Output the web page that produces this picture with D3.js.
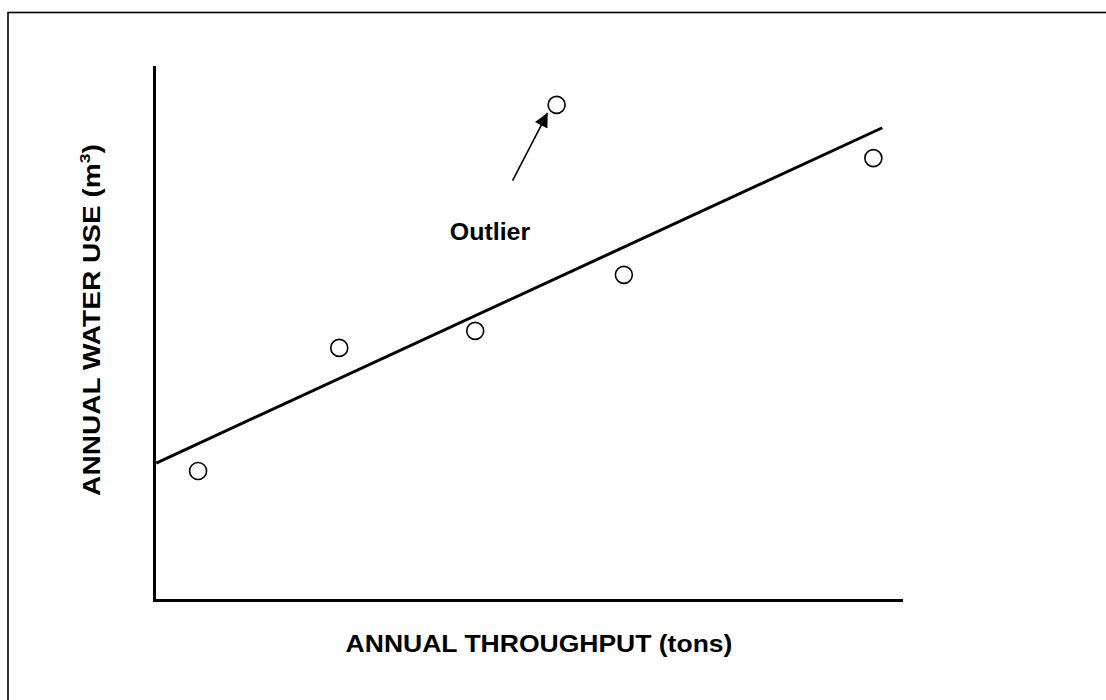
<!DOCTYPE html>
<html><head><meta charset="utf-8">
<script src="https://cdn.jsdelivr.net/npm/d3@7"></script>
<style>html,body{margin:0;padding:0;background:#fff;}svg{display:block;}</style>
</head><body>
<svg id="chart" width="1106" height="700"></svg>
<script>
// Data (arbitrary units, 0-100 on both axes)
const throughput = [5.9, 24.8, 43.0, 53.9, 62.9, 96.3];
const waterUse   = [24.2, 47.3, 50.5, 92.9, 61.0, 82.9];
const trendX = [0.3, 97.5];
const trendY = [25.7, 88.6];
const arrowFrom = [48.0, 78.7];
const arrowTo = [52.7, 91.4];
const outlierLabel = "Outlier";
const xTitle = "ANNUAL THROUGHPUT (tons)";
const yTitle = "ANNUAL WATER USE (m";

const svg = d3.select("#chart");
const font = "'Liberation Sans', Arial, sans-serif";

svg.append("rect").attr("x", 8).attr("y", 12.5).attr("width", 1200).attr("height", 800)
  .attr("fill", "none").attr("stroke", "#000").attr("stroke-width", 1.6);

const x = d3.scaleLinear().domain([0, 100]).range([154, 901]);
const y = d3.scaleLinear().domain([0, 100]).range([600, 67]);

// axes (domain lines only)
const gx = svg.append("g").attr("transform", `translate(0,${y(0)})`)
  .call(d3.axisBottom(x).ticks(0).tickSizeOuter(0));
const gy = svg.append("g").attr("transform", `translate(${x(0)},0)`)
  .call(d3.axisLeft(y).ticks(0).tickSizeOuter(0));
[gx, gy].forEach(g => g.select(".domain").attr("stroke", "#000").attr("stroke-width", 3).attr("stroke-linecap", "square"));

// trend line
svg.append("path")
  .datum(trendX.map((v, i) => [v, trendY[i]]))
  .attr("d", d3.line().x(d => x(d[0])).y(d => y(d[1])))
  .attr("fill", "none").attr("stroke", "#000").attr("stroke-width", 3);

// points
svg.append("g").selectAll("circle")
  .data(throughput.map((v, i) => [v, waterUse[i]]))
  .join("circle")
  .attr("cx", d => x(d[0])).attr("cy", d => y(d[1])).attr("r", 8.5)
  .attr("fill", "#fff").attr("stroke", "#000").attr("stroke-width", 1.6);

// arrow
svg.append("defs").append("marker")
  .attr("id", "arrow").attr("viewBox", "0 0 10 10").attr("refX", 10).attr("refY", 5)
  .attr("markerWidth", 21).attr("markerHeight", 14).attr("markerUnits", "userSpaceOnUse")
  .attr("orient", "auto")
  .append("path").attr("d", "M0,0 L10,5 L0,10 Z").attr("fill", "#000");
svg.append("line")
  .attr("x1", x(arrowFrom[0])).attr("y1", y(arrowFrom[1]))
  .attr("x2", x(arrowTo[0])).attr("y2", y(arrowTo[1]))
  .attr("stroke", "#000").attr("stroke-width", 1.6).attr("marker-end", "url(#arrow)");

svg.append("text").attr("transform", "translate(490,240) scale(1.04,1)").attr("text-anchor", "middle")
  .attr("font-family", font).attr("font-weight", "bold").attr("font-size", 24)
  .text(outlierLabel);

svg.append("text").attr("transform", "translate(539,652) scale(1.105,1)").attr("text-anchor", "middle")
  .attr("font-family", font).attr("font-weight", "bold").attr("font-size", 24)
  .text(xTitle);

const yt = svg.append("text").attr("transform", "translate(100,320) rotate(-90) scale(1.17,1)")
  .attr("text-anchor", "middle")
  .attr("font-family", font).attr("font-weight", "bold").attr("font-size", 24);
yt.append("tspan").text(yTitle);
yt.append("tspan").attr("font-size", 15).attr("dy", -10).text("3");
yt.append("tspan").attr("dy", 10).text(")");
</script>
</body></html>
